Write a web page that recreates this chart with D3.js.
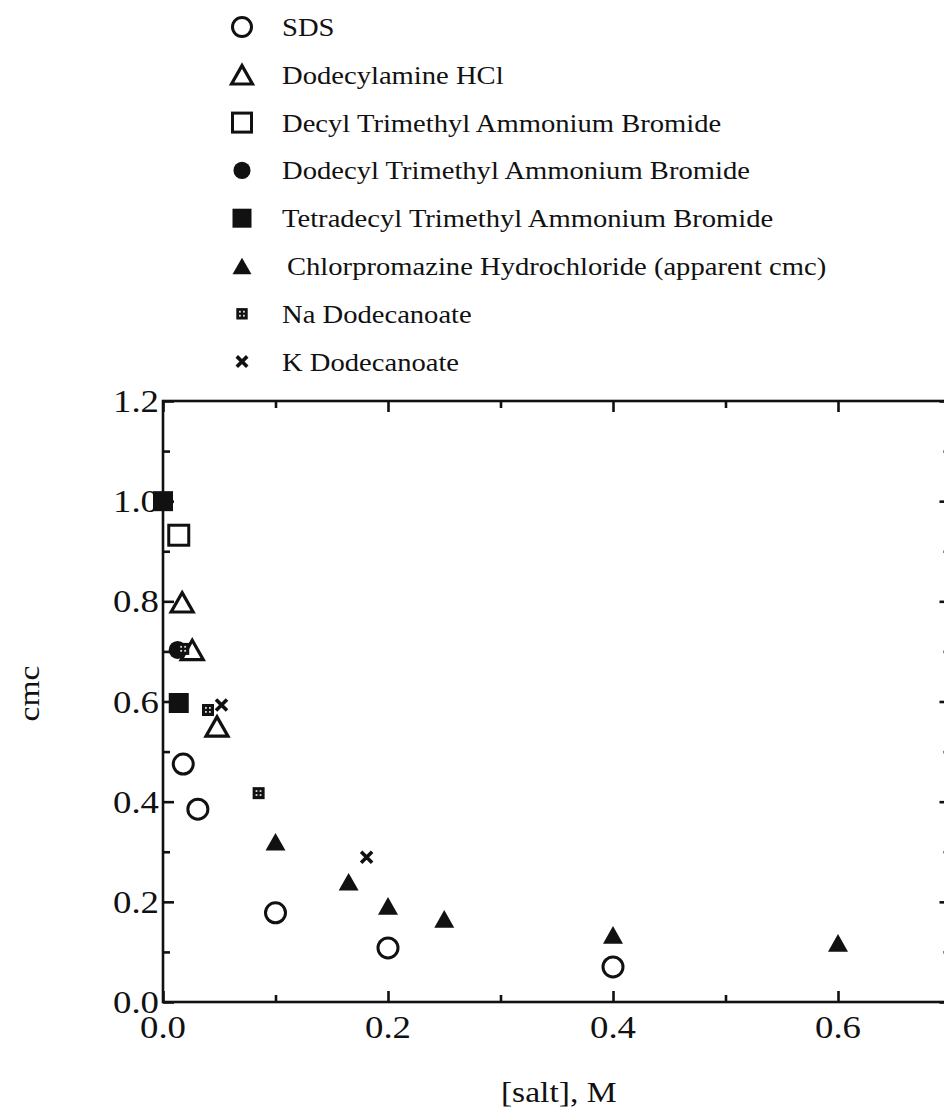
<!DOCTYPE html>
<html>
<head>
<meta charset="utf-8">
<script src="https://cdn.jsdelivr.net/npm/d3@7"></script>
<style>
  html, body { margin: 0; padding: 0; background: #fff; }
  svg { display: block; }
  text { font-family: "Liberation Serif", "Times New Roman", "DejaVu Serif", serif; fill: #111; }
</style>
</head>
<body>
<svg id="chart" width="944" height="1112"></svg>
<script>
// ---------------- data ----------------
const seriesNames = [
  "SDS",
  "Dodecylamine HCl",
  "Decyl Trimethyl Ammonium Bromide",
  "Dodecyl Trimethyl Ammonium Bromide",
  "Tetradecyl Trimethyl Ammonium Bromide",
  "Chlorpromazine Hydrochloride (apparent cmc)",
  "Na Dodecanoate",
  "K Dodecanoate"
];
const markerTypes = ["openCircle", "openTriangle", "openSquare", "filledCircle",
                     "filledSquare", "filledTriangle", "gridSquare", "cross"];

// [salt] (M), cmc (relative)
const sdsData            = [[0.018, 0.475], [0.031, 0.385], [0.1, 0.178], [0.2, 0.108], [0.4, 0.07]];
const dodecylamineData   = [[0.017, 0.798], [0.026, 0.703], [0.048, 0.55]];
const decylTABData       = [[0.014, 0.932]];
const dodecylTABData     = [[0.013, 0.703]];
const tetradecylTABData  = [[0.0, 1.0], [0.014, 0.597]];
const chlorpromazineData = [[0.1, 0.32], [0.165, 0.24], [0.2, 0.192], [0.25, 0.166], [0.4, 0.134], [0.6, 0.118]];
const naDodecanoateData  = [[0.018, 0.705], [0.04, 0.583], [0.085, 0.417]];
const kDodecanoateData   = [[0.052, 0.593], [0.181, 0.289]];

const xMajorTicks = [0.0, 0.2, 0.4, 0.6];
const xTickLabels = ["0.0", "0.2", "0.4", "0.6"];
const xMinorTicks = [0.1, 0.3, 0.5, 0.7];
const yMajorTicks = [0.0, 0.2, 0.4, 0.6, 0.8, 1.0, 1.2];
const yTickLabels = ["0.0", "0.2", "0.4", "0.6", "0.8", "1.0", "1.2"];
const yMinorTicks = [0.1, 0.3, 0.5, 0.7, 0.9, 1.1];
const xTitle = "[salt],  M";
const yTitle = "cmc";

const allData = [sdsData, dodecylamineData, decylTABData, dodecylTABData,
                 tetradecylTABData, chlorpromazineData, naDodecanoateData, kDodecanoateData];

// ---------------- layout ----------------
const plotL = 163, plotR = 950.5, plotT = 401, plotB = 1002;
const x = d3.scaleLinear().domain([0, 0.7]).range([plotL, plotR]);
const y = d3.scaleLinear().domain([0, 1.2]).range([plotB, plotT]);

const svg = d3.select("#chart");
const ink = "#111";

// ---------------- marker drawing ----------------
function triPath(w) {
  const h = w * 0.88;
  return `M0,${-h/2}L${w/2},${h/2}L${-w/2},${h/2}Z`;
}
function drawMarker(g, type, big) {
  const s = big ? 1 : 0.95;
  switch (type) {
    case "openCircle":
      g.append("circle").attr("r", 10 * s).attr("fill", "none").attr("stroke", ink).attr("stroke-width", 3);
      break;
    case "openTriangle":
      g.append("path").attr("d", triPath(22 * s)).attr("fill", "none").attr("stroke", ink)
        .attr("stroke-width", 3.2).attr("stroke-linejoin", "miter");
      break;
    case "openSquare":
      g.append("rect").attr("x", -10 * s).attr("y", -10 * s).attr("width", 20 * s).attr("height", 20 * s)
        .attr("fill", "none").attr("stroke", ink).attr("stroke-width", 3);
      break;
    case "filledCircle":
      g.append("circle").attr("r", 9 * s).attr("fill", ink);
      break;
    case "filledSquare":
      g.append("rect").attr("x", -10 * s).attr("y", -10 * s).attr("width", 20 * s).attr("height", 20 * s).attr("fill", ink);
      break;
    case "filledTriangle":
      g.append("path").attr("d", triPath(20 * s)).attr("fill", ink);
      break;
    case "gridSquare": {
      const a = 12 * s;
      g.append("rect").attr("x", -a/2).attr("y", -a/2).attr("width", a).attr("height", a).attr("fill", ink);
      [[-1, -1], [1, -1], [-1, 1], [1, 1]].forEach(([dx, dy]) => {
        g.append("rect").attr("x", dx * 2 - 1).attr("y", dy * 2 - 1).attr("width", 1.8).attr("height", 1.8).attr("fill", "#ddd");
      });
      break;
    }
    case "cross": {
      const c = 5.5 * s;
      g.append("path").attr("d", `M${-c},${-c}L${c},${c}M${c},${-c}L${-c},${c}`)
        .attr("stroke", ink).attr("stroke-width", 3.6).attr("fill", "none");
      break;
    }
  }
}

// ---------------- axes (ticks pointing inward on all four sides) ----------------
function styleAxis(g) {
  g.select(".domain").remove();
  g.selectAll(".tick line").attr("stroke", ink).attr("stroke-width", 2.6);
  g.selectAll(".tick text").remove();
}
const major = 11, minor = 7;
svg.append("g").attr("transform", `translate(0,${plotB})`)
  .call(d3.axisBottom(x).tickValues(xMajorTicks).tickSize(-major).tickFormat("")).call(styleAxis);
svg.append("g").attr("transform", `translate(0,${plotB})`)
  .call(d3.axisBottom(x).tickValues(xMinorTicks).tickSize(-minor).tickFormat("")).call(styleAxis);
svg.append("g").attr("transform", `translate(0,${plotT})`)
  .call(d3.axisTop(x).tickValues(xMajorTicks).tickSize(-major).tickFormat("")).call(styleAxis);
svg.append("g").attr("transform", `translate(0,${plotT})`)
  .call(d3.axisTop(x).tickValues(xMinorTicks).tickSize(-minor).tickFormat("")).call(styleAxis);
svg.append("g").attr("transform", `translate(${plotL},0)`)
  .call(d3.axisLeft(y).tickValues(yMajorTicks).tickSize(-major).tickFormat("")).call(styleAxis);
svg.append("g").attr("transform", `translate(${plotL},0)`)
  .call(d3.axisLeft(y).tickValues(yMinorTicks).tickSize(-minor).tickFormat("")).call(styleAxis);
svg.append("g").attr("transform", `translate(${plotR},0)`)
  .call(d3.axisRight(y).tickValues(yMajorTicks).tickSize(-major).tickFormat("")).call(styleAxis);
svg.append("g").attr("transform", `translate(${plotR},0)`)
  .call(d3.axisRight(y).tickValues(yMinorTicks).tickSize(-minor).tickFormat("")).call(styleAxis);

// frame
svg.append("rect").attr("x", plotL).attr("y", plotT).attr("width", plotR - plotL).attr("height", plotB - plotT)
  .attr("fill", "none").attr("stroke", ink).attr("stroke-width", 2.6);

// tick labels (stretched serif, like the original)
const tickFont = 32, stretch = 1.15;
svg.append("g").selectAll("text").data(xMajorTicks).join("text")
  .attr("transform", d => `translate(${x(d)},1038) scale(${stretch},1)`)
  .attr("text-anchor", "middle").attr("font-size", tickFont)
  .text((d, i) => xTickLabels[i]);
svg.append("g").selectAll("text").data(yMajorTicks).join("text")
  .attr("transform", d => `translate(159,${y(d) + 11}) scale(${stretch},1)`)
  .attr("text-anchor", "end").attr("font-size", tickFont)
  .text((d, i) => yTickLabels[i]);

// axis titles
svg.append("text").attr("transform", `translate(${(plotL + plotR) / 2 + 2},1102) scale(1.12,1)`)
  .attr("text-anchor", "middle").attr("font-size", 30).text(xTitle);
svg.append("text").attr("transform", `translate(39,${(plotT + plotB) / 2 - 8}) rotate(-90) scale(1.12,1)`)
  .attr("text-anchor", "middle").attr("font-size", 30).text(yTitle);

// ---------------- points ----------------
allData.forEach((data, si) => {
  const g = svg.append("g");
  data.forEach(d => {
    const m = g.append("g").attr("transform", `translate(${x(d[0])},${y(d[1])})`);
    drawMarker(m, markerTypes[si], true);
  });
});

// ---------------- legend ----------------
const legendY0 = 27, legendStep = 47.8;
seriesNames.forEach((name, i) => {
  const cy = legendY0 + i * legendStep;
  const m = svg.append("g").attr("transform", `translate(242,${cy})`);
  drawMarker(m, markerTypes[i], false);
  const tx = i === 5 ? 287 : 282;
  svg.append("text").attr("transform", `translate(${tx},${cy + 9}) scale(1.1,1)`)
    .attr("font-size", 26).text(name);
});
</script>
</body>
</html>
